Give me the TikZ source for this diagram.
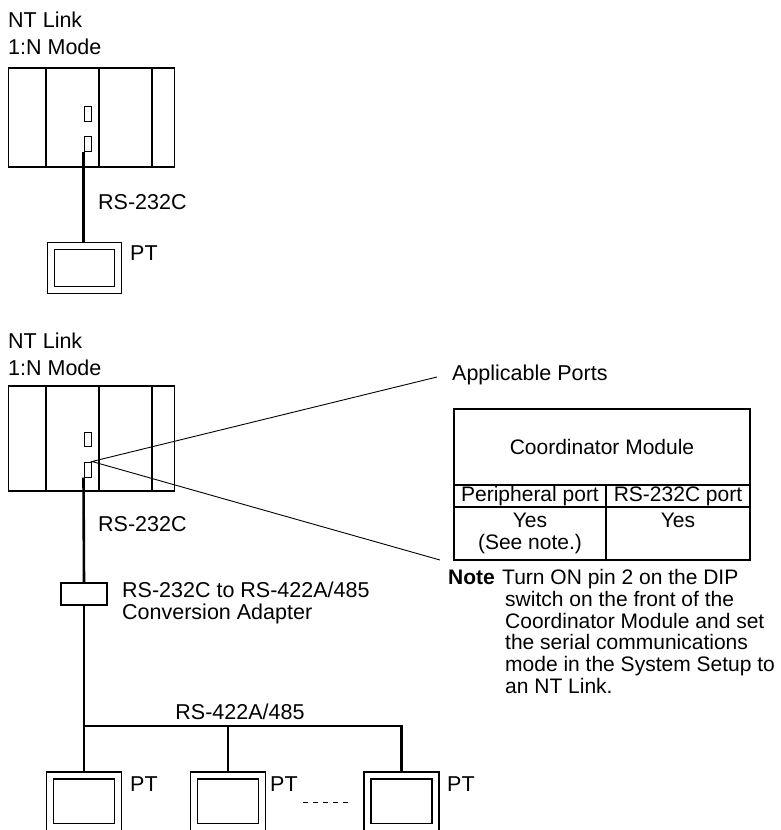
\documentclass[tikz,border=0pt]{standalone}
\usepackage{fontspec}
\setmainfont{Liberation Sans}
\usepackage{tikz}
\usetikzlibrary{positioning, backgrounds}

\begin{document}
\begin{tikzpicture}[
  x=1pt, y=-1pt,
  txt/.style={inner sep=0, font=\fontsize{21.5}{21.7}\selectfont},
  notefont/.style={inner sep=0, font=\fontsize{21}{21.7}\selectfont},
  plc/.style={draw, line width=1.3pt, minimum width=166pt, inner sep=0},
  port/.style={draw, line width=1pt, minimum width=7.5pt, minimum height=15pt, inner sep=0},
  ptbox/.style={draw, double, double distance=5.7pt, line width=1.3pt, minimum width=68pt, inner sep=0},
  adapt/.style={draw, line width=1.2pt, minimum width=46pt, minimum height=22pt, inner sep=0},
  cell/.style={draw, line width=1.2pt, inner sep=0, outer sep=0, align=center,
    font=\fontsize{21}{21.5}\selectfont},
  cable/.style={line width=2.6pt},
  lead/.style={line width=0.9pt}
]
  \useasboundingbox (0,0) rectangle (780,830);

  \node[txt, anchor=west, align=left] (mode1) at (8,33.5) {NT Link\\[5.3pt]1:N Mode};
  \node[plc, minimum height=99pt] (plc1) at (91.5,117.5) {};
  \foreach \dx in {38,91,144}
    \draw[line width=1.3pt] ([xshift=\dx pt]plc1.north west) -- ([xshift=\dx pt]plc1.south west);
  \node[port] (p1a) at (87.75,114) {};
  \node[port] (p1b) at (87.75,144) {};
  \node[txt, anchor=west] (rs1) at (98,202) {RS-232C};
  \node[ptbox, minimum width=67pt, minimum height=44pt] (pt0) at (84.25,268.25) {};
  \node[txt, anchor=west] (pt0lbl) at (130,253) {PT};

  \node[txt, anchor=west, align=left] (mode2) at (8,354.5) {NT Link\\[5.3pt]1:N Mode};
  \node[plc, minimum height=105pt] (plc2) at (91.5,438.5) {};
  \foreach \dx in {38,91,144}
    \draw[line width=1.3pt] ([xshift=\dx pt]plc2.north west) -- ([xshift=\dx pt]plc2.south west);
  \node[port, minimum height=14pt] (p2a) at (87.75,439) {};
  \node[port] (p2b) at (87.75,469.5) {};
  \node[txt, anchor=west] (rs2) at (98,524) {RS-232C};
  \node[adapt] (adapter) at (84,594) {};
  \node[txt, anchor=west, align=left] (adlbl) at (122,603) {RS-232C to RS-422A/485\\[0.3pt]Conversion Adapter};
  \node[txt] (rs485) at (240,712) {RS-422A/485};

  \node[ptbox, minimum height=51.4pt] (pt1) at (84,801.2) {};
  \node[ptbox, minimum height=51.4pt] (pt2) at (228,801.2) {};
  \node[ptbox, minimum height=51.4pt] (pt3) at (401.5,801.2) {};
  \node[txt, anchor=west] (pt1lbl) at (130,784) {PT};
  \node[txt, anchor=west] (pt2lbl) at (270,784) {PT};
  \node[txt, anchor=west] (pt3lbl) at (447,784) {PT};
  \draw[dash pattern=on 5pt off 5pt, line width=1pt] (303,802) -- (348,802);
  \coordinate (bus) at (84,726);

  \node[txt, anchor=west] (apl) at (452,375) {Applicable Ports};
  \coordinate (aplend) at (437,377);
  \coordinate (tblend) at (440,560);

  \node[cell, minimum width=296pt, minimum height=76pt] (mod) at (602,447) {Coordinator Module};
  \node[cell, minimum width=152pt, minimum height=22pt, below right=0pt and 0pt of mod.south west] (perh) {Peripheral port};
  \node[cell, minimum width=144pt, minimum height=22pt, below left=0pt and 0pt of mod.south east] (rsh) {RS-232C port};
  \node[cell, minimum width=152pt, minimum height=53pt, below=0pt of perh] (pery) {Yes\\(See note.)};
  \node[cell, minimum width=144pt, minimum height=53pt, below=0pt of rsh] (rsy) {Yes\\\phantom{(See note.)}};

  \node[notefont, anchor=base west] (note) at (448,584.5) {\bfseries Note};
  \node[notefont, anchor=north west, align=left] (notetxt) at (505,569.2) {\hspace*{-3pt}Turn ON pin 2 on the DIP\\switch on the front of the\\Coordinator Module and set\\the serial communications\\mode in the System Setup to\\an NT Link.};

  \begin{scope}[on background layer]
    \draw[cable] (p1b.south west) -- (p1b.south west |- pt0.north);
    \draw[cable] (p2b.south west) -- (adapter.north);
    \draw[cable] (adapter.south) -- (pt1.north);
    \draw[cable] (bus) -| (pt3.north);
    \draw[cable] (pt2.north |- bus) -- (pt2.north);
  \end{scope}
  \draw[lead] (aplend) -- (p2b.north east) -- (tblend);
\end{tikzpicture}
\end{document}
